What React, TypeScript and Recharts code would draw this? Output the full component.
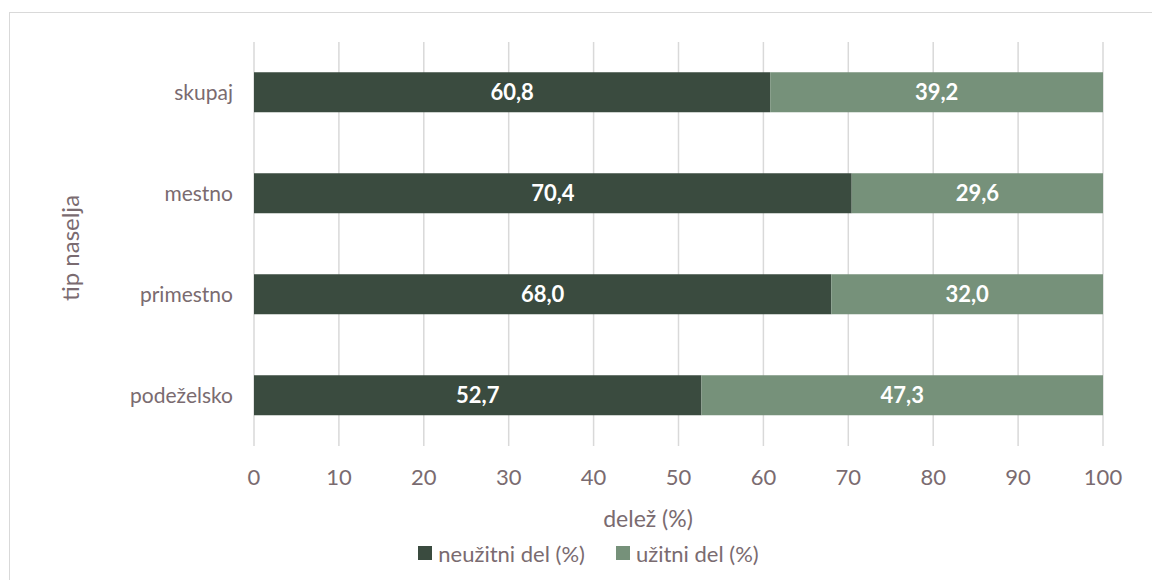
import { BarChart, Bar, XAxis, YAxis, CartesianGrid, Legend, Label, LabelList } from 'recharts';

// tip naselja, od zgoraj navzdol
const categories = ['skupaj', 'mestno', 'primestno', 'podeželsko'];
const neuzitni = [60.8, 70.4, 68.0, 52.7];
const uzitni = [39.2, 29.6, 32.0, 47.3];
const xTicks = [0, 10, 20, 30, 40, 50, 60, 70, 80, 90, 100];

const seriesNames = ['neužitni del (%)', 'užitni del (%)'];
const seriesColors = ['#3a4b3f', '#76917a'];

const data = categories.map((name, i) => ({
  name,
  neuzitni: neuzitni[i],
  uzitni: uzitni[i],
}));

const textColor = '#7a6b70';
const font = 'Lato, "Noto Sans", sans-serif';

const fmt = (v: any) => Number(v).toFixed(1).replace('.', ',');

const LegendContent = () => (
  <div
    style={{
      display: 'flex',
      justifyContent: 'center',
      alignItems: 'center',
      gap: 31,
      height: 34,
      paddingBottom: 10,
      fontFamily: font,
      fontSize: 22,
      color: textColor,
      paddingLeft: 74,
    }}
  >
    {seriesNames.map((n, i) => (
      <div key={n} style={{ display: 'flex', alignItems: 'center' }}>
        <span style={{ width: 14, height: 14, background: seriesColors[i], marginRight: 6 }} />
        <span>{n}</span>
      </div>
    ))}
  </div>
);

export default function App() {
  return (
    <div style={{ position: 'absolute', left: 0, top: 0, width: 1152, height: 580, background: '#fff' }}>
      <div
        style={{
          position: 'absolute',
          left: 9,
          top: 12,
          width: 1160,
          height: 600,
          borderTop: '1px solid #d9d9d9',
          borderLeft: '1px solid #d9d9d9',
        }}
      />
      <BarChart
        width={1152}
        height={580}
        data={data}
        layout="vertical"
        margin={{ top: 42, right: 49, bottom: 0, left: 0 }}
        barCategoryGap="30%"
        style={{ position: 'absolute', left: 0, top: 0, fontFamily: font }}
      >
        <CartesianGrid horizontal={false} stroke="#d9d9d9" strokeWidth={1.5} />
        <XAxis
          type="number"
          domain={[0, 100]}
          ticks={xTicks}
          axisLine={false}
          tickLine={false}
          tickSize={0}
          tickMargin={23}
          height={90}
          tick={{ fill: textColor, fontSize: 22, fontFamily: font }}
        >
          <Label
            content={({ viewBox }: any) => (
              <text
                x={648}
                y={viewBox.y + 72}
                textAnchor="middle"
                dominantBaseline="central"
                fill={textColor}
                fontSize={23}
                fontFamily={font}
              >
                delež (%)
              </text>
            )}
          />
        </XAxis>
        <YAxis
          type="category"
          dataKey="name"
          width={254}
          axisLine={false}
          tickLine={false}
          tickSize={0}
          tickMargin={21}
          tick={{ fill: textColor, fontSize: 21, fontFamily: font }}
        >
          <Label
            content={({ viewBox }: any) => {
              const cx = 69;
              const cy = viewBox.y + viewBox.height / 2 + 4;
              return (
                <text
                  x={cx}
                  y={cy}
                  transform={`rotate(-90 ${cx} ${cy})`}
                  textAnchor="middle"
                  dominantBaseline="central"
                  fill={textColor}
                  fontSize={24}
                  fontFamily={font}
                >
                  tip naselja
                </text>
              );
            }}
          />
        </YAxis>
        <Legend verticalAlign="bottom" content={<LegendContent />} />
        <Bar dataKey="neuzitni" name={seriesNames[0]} stackId="a" fill={seriesColors[0]} isAnimationActive={false}>
          <LabelList
            dataKey="neuzitni"
            position="center"
            formatter={fmt}
            style={{ fill: '#ffffff', fontSize: 22, fontWeight: 700, fontFamily: font }}
          />
        </Bar>
        <Bar dataKey="uzitni" name={seriesNames[1]} stackId="a" fill={seriesColors[1]} isAnimationActive={false}>
          <LabelList
            dataKey="uzitni"
            position="center"
            formatter={fmt}
            style={{ fill: '#ffffff', fontSize: 22, fontWeight: 700, fontFamily: font }}
          />
        </Bar>
      </BarChart>
    </div>
  );
}
